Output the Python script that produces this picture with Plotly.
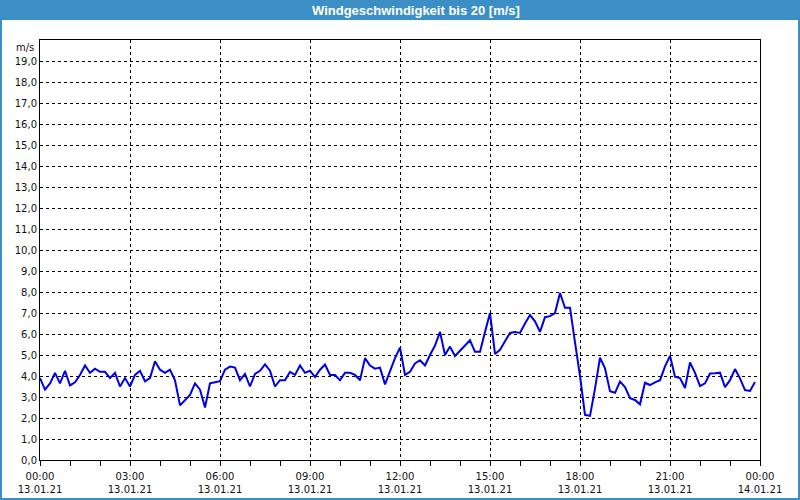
import pandas as pd
import plotly.graph_objects as go

# 10-minute wind speed samples, 13.01.21 00:00 .. 23:50 (m/s)
speed = [
    3.9, 3.35, 3.65, 4.15, 3.65, 4.25, 3.55, 3.7, 4.05, 4.5, 4.15, 4.35,
    4.2, 4.2, 3.9, 4.15, 3.5, 3.9, 3.5, 4.05, 4.25, 3.75, 3.9, 4.7,
    4.3, 4.15, 4.3, 3.8, 2.6, 2.85, 3.1, 3.65, 3.35, 2.5, 3.65, 3.7,
    3.75, 4.3, 4.45, 4.4, 3.8, 4.1, 3.5, 4.1, 4.25, 4.55, 4.25, 3.5,
    3.8, 3.8, 4.2, 4.05, 4.5, 4.15, 4.25, 3.95, 4.3, 4.55, 4.05, 4.05,
    3.8, 4.15, 4.15, 4.05, 3.8, 4.85, 4.5, 4.35, 4.4, 3.6, 4.2, 4.85,
    5.35, 4.05, 4.2, 4.6, 4.75, 4.5, 5.0, 5.45, 6.1, 5.0, 5.4, 4.95,
    5.2, 5.45, 5.7, 5.15, 5.15, 6.1, 7.0, 5.05, 5.25, 5.65, 6.05, 6.1,
    6.05, 6.5, 6.9, 6.6, 6.1, 6.8, 6.85, 7.0, 7.95, 7.25, 7.25, 5.6,
    4.0, 2.15, 2.1, 3.4, 4.87, 4.37, 3.27, 3.2, 3.73, 3.47, 2.94, 2.86,
    2.65, 3.68, 3.57, 3.7, 3.8, 4.46, 4.96, 3.97, 3.9, 3.43, 4.64, 4.15,
    3.52, 3.65, 4.12, 4.13, 4.16, 3.47, 3.8, 4.33, 3.89, 3.33, 3.29, 3.71,
]
times = pd.date_range("2021-01-13 00:00", periods=len(speed), freq="10min")

x_tick_vals = ["2021-01-13 00:00", "2021-01-13 03:00", "2021-01-13 06:00",
               "2021-01-13 09:00", "2021-01-13 12:00", "2021-01-13 15:00",
               "2021-01-13 18:00", "2021-01-13 21:00", "2021-01-14 00:00"]
x_tick_text = ["00:00<br>13.01.21", "03:00<br>13.01.21", "06:00<br>13.01.21",
               "09:00<br>13.01.21", "12:00<br>13.01.21", "15:00<br>13.01.21",
               "18:00<br>13.01.21", "21:00<br>13.01.21", "00:00<br>14.01.21"]
x_minor_vals = [str(t) for t in pd.date_range("2021-01-13 00:00", "2021-01-14 00:00", freq="1h")]
y_tick_vals = list(range(0, 20))
y_tick_text = [f"{v},0" for v in y_tick_vals]

title_text = "Windgeschwindigkeit bis 20 [m/s]"
unit_text = "m/s"

BLUE = "#3C8FC6"
FONT = "DejaVu Sans"

fig = go.Figure()
fig.add_trace(go.Scatter(x=times, y=speed, mode="lines",
                         line=dict(color="#0000E6", width=2), hoverinfo="skip"))

# pixel -> paper helpers (plot area 40..760 x 40..460)
def px(p):
    return (p - 40) / 720.0

def py(p):
    return (460 - p) / 420.0

fig.update_layout(
    width=800, height=500,
    margin=dict(l=40, r=40, t=40, b=40, autoexpand=False),
    paper_bgcolor="white", plot_bgcolor="white",
    showlegend=False,
    font=dict(family=FONT, size=10, color="#111111"),
    shapes=[
        dict(type="rect", xref="paper", yref="paper", x0=px(0), x1=px(800),
             y0=py(0), y1=py(20), fillcolor=BLUE, line=dict(width=0), layer="below"),
        dict(type="rect", xref="paper", yref="paper", x0=px(1), x1=px(799),
             y0=py(1), y1=py(499), fillcolor="rgba(0,0,0,0)",
             line=dict(color=BLUE, width=2)),
    ],
    annotations=[
        dict(text=title_text, xref="paper", yref="paper", x=px(416), y=py(10.5),
             xanchor="center", yanchor="middle", showarrow=False,
             font=dict(family="Liberation Sans Narrow, Liberation Sans", size=13,
                       color="white", weight="bold")),
        dict(text=unit_text, xref="paper", yref="paper", x=px(36), y=py(47),
             xanchor="right", yanchor="middle", showarrow=False,
             font=dict(family=FONT, size=10, color="#111111")),
    ],
)

fig.update_xaxes(
    type="date", automargin=False,
    range=["2021-01-13 00:00", "2021-01-14 00:00"],
    tickmode="array", tickvals=x_tick_vals, ticktext=x_tick_text,
    ticks="outside", ticklen=5, tickcolor="black", tickwidth=1,
    ticklabelstandoff=2,
    minor=dict(tickmode="array", tickvals=x_minor_vals, ticks="outside",
               ticklen=5, tickcolor="black", showgrid=False),
    showgrid=True, gridcolor="black", gridwidth=1, griddash="3px,3px",
    showline=True, linecolor="black", linewidth=1, mirror=True,
    zeroline=False, tickfont=dict(family=FONT, size=10, color="#111111"),
)
fig.update_yaxes(
    automargin=False,
    range=[0, 20],
    tickmode="array", tickvals=y_tick_vals, ticktext=y_tick_text,
    ticks="", showgrid=True, gridcolor="black", gridwidth=1, griddash="3px,3px",
    showline=True, linecolor="black", linewidth=1, mirror=True,
    zeroline=False, tickfont=dict(family=FONT, size=10, color="#111111"),
)

fig.write_html("out.html")
